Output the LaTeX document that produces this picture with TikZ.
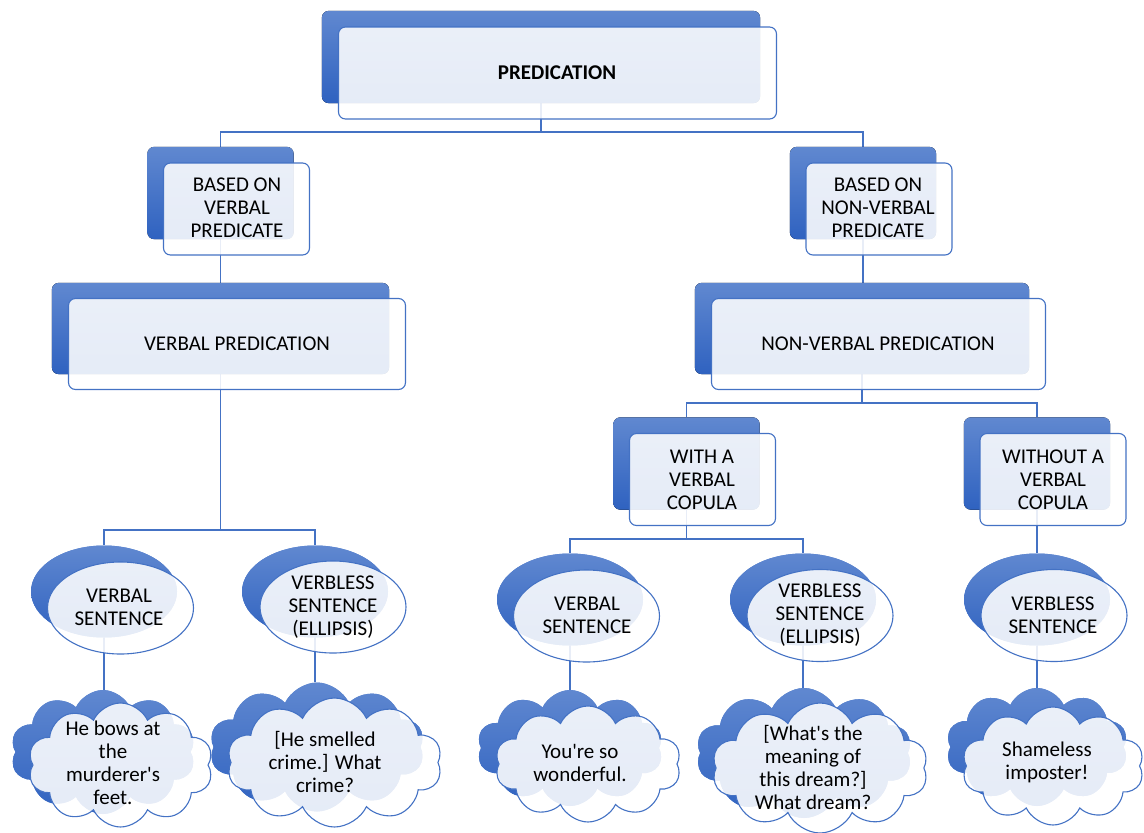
\documentclass[tikz,border=0pt]{standalone}
\usepackage{fontspec}
\setmainfont{Carlito}
\usetikzlibrary{shapes.symbols,shapes.geometric}
\definecolor{lineblue}{HTML}{4472C4}
\definecolor{backtop}{HTML}{6088D0}
\definecolor{backbot}{HTML}{2F62C0}
\tikzset{
  conn/.style={draw=lineblue, line width=1.1pt},
  backshade/.style={top color=backtop, bottom color=backbot, draw=none, inner sep=0pt},
  frontfill/.style={draw=lineblue, line width=1.1pt, fill=white, fill opacity=0.88, inner sep=0pt},
  backrect/.style={backshade, rectangle, rounded corners=7pt},
  frontrect/.style={frontfill, rectangle, rounded corners=7pt},
  backell/.style={backshade, ellipse},
  frontell/.style={frontfill, ellipse},
  backcloud/.style={backshade, cloud, cloud puffs=10, cloud puff arc=130, cloud ignores aspect},
  frontcloud/.style={frontfill, cloud, cloud puffs=10, cloud puff arc=130, cloud ignores aspect},
  txt/.style={align=center, inner sep=0pt, font=\fontsize{21}{23}\selectfont},
  small/.style={minimum width=146pt, minimum height=92pt},
  ovalsize/.style={minimum width=146pt, minimum height=92pt}
}
\begin{document}
\begin{tikzpicture}[x=1pt,y=-1pt]
\useasboundingbox (0,0) rectangle (1144,833);
% ---------- back shapes (placed first for anchors) ----------
\node[backrect, minimum width=438pt, minimum height=92pt] (bP) at (541,57) {};
\node[backrect, small] (bBV) at (220.5,193) {};
\node[backrect, small] (bBN) at (863,193) {};
\node[backrect, minimum width=337pt, minimum height=91pt] (bVP) at (220.5,328.5) {};
\node[backrect, minimum width=334pt, minimum height=91pt] (bNP) at (862,328.5) {};
\node[backrect, small] (bWA) at (686.5,463.5) {};
\node[backrect, small] (bWO) at (1037,463.5) {};
\node[backell, ovalsize] (bE1) at (104,591.5) {};
\node[backell, ovalsize] (bE2) at (315,591.5) {};
\node[backell, ovalsize] (bE3) at (570,599.5) {};
\node[backell, ovalsize] (bE4) at (803,599.5) {};
\node[backell, ovalsize] (bE5) at (1037,599.5) {};
\node[backcloud, minimum width=185pt, minimum height=124pt] (bC1) at (103,752) {};
\node[backcloud, minimum width=215pt, minimum height=129pt] (bC2) at (317,747) {};
\node[backcloud, minimum width=186pt, minimum height=116pt] (bC3) at (570,748) {};
\node[backcloud, minimum width=216pt, minimum height=130pt] (bC4) at (804,753) {};
\node[backcloud, minimum width=182pt, minimum height=118pt] (bC5) at (1037,747) {};
% ---------- connectors ----------
\coordinate (j0) at (541,132);
\coordinate (j1) at (220.5,530);
\coordinate (j2) at (862,403);
\coordinate (j3) at (686.5,539);
\draw[conn] (bP.south) -- (j0);
\draw[conn] (j0) -| (bBV.north);
\draw[conn] (j0) -| (bBN.north);
\draw[conn] (bBV.south) -- (bVP.north);
\draw[conn] (bBN.south) -- (bBN.south |- bNP.north);
\draw[conn] (bVP.south) -- (j1);
\draw[conn] (j1) -| (bE1.north);
\draw[conn] (j1) -| (bE2.north);
\draw[conn] (bNP.south) -- (j2);
\draw[conn] (j2) -| (bWA.north);
\draw[conn] (j2) -| (bWO.north);
\draw[conn] (bWA.south) -- (j3);
\draw[conn] (j3) -| (bE3.north);
\draw[conn] (j3) -| (bE4.north);
\draw[conn] (bWO.south) -- (bE5.north);
\draw[conn] (bE1.south) -- (bE1.south |- bC1.north);
\draw[conn] (bE2.south) -- (bE2.south |- bC2.north);
\draw[conn] (bE3.south) -- (bE3.south |- bC3.north);
\draw[conn] (bE4.south) -- (bE4.south |- bC4.north);
\draw[conn] (bE5.south) -- (bE5.south |- bC5.north);
% redraw back shapes above connectors
\fill[top color=backtop, bottom color=backbot, rounded corners=7pt] (bP.south west) rectangle (bP.north east);
\fill[top color=backtop, bottom color=backbot, rounded corners=7pt] (bBV.south west) rectangle (bBV.north east);
\fill[top color=backtop, bottom color=backbot, rounded corners=7pt] (bBN.south west) rectangle (bBN.north east);
\fill[top color=backtop, bottom color=backbot, rounded corners=7pt] (bVP.south west) rectangle (bVP.north east);
\fill[top color=backtop, bottom color=backbot, rounded corners=7pt] (bNP.south west) rectangle (bNP.north east);
\fill[top color=backtop, bottom color=backbot, rounded corners=7pt] (bWA.south west) rectangle (bWA.north east);
\fill[top color=backtop, bottom color=backbot, rounded corners=7pt] (bWO.south west) rectangle (bWO.north east);
\node[backell, ovalsize] at (bE1) {};
\node[backell, ovalsize] at (bE2) {};
\node[backell, ovalsize] at (bE3) {};
\node[backell, ovalsize] at (bE4) {};
\node[backell, ovalsize] at (bE5) {};
\node[backcloud, minimum width=185pt, minimum height=124pt] at (bC1) {};
\node[backcloud, minimum width=215pt, minimum height=129pt] at (bC2) {};
\node[backcloud, minimum width=186pt, minimum height=116pt] at (bC3) {};
\node[backcloud, minimum width=216pt, minimum height=130pt] at (bC4) {};
\node[backcloud, minimum width=182pt, minimum height=118pt] at (bC5) {};
% ---------- front shapes ----------
\node[frontrect, minimum width=438pt, minimum height=92pt] (fP) at (557.5,73) {};
\node[frontrect, small] (fBV) at (236.5,209) {};
\node[frontrect, small] (fBN) at (879,209) {};
\node[frontrect, minimum width=337pt, minimum height=91pt] (fVP) at (237,344) {};
\node[frontrect, minimum width=334pt, minimum height=91pt] (fNP) at (878.5,344) {};
\node[frontrect, small] (fWA) at (702.5,479.5) {};
\node[frontrect, small] (fWO) at (1053,479.5) {};
\node[frontell, ovalsize] (fE1) at (120.5,608) {};
\node[frontell, ovalsize] (fE2) at (333,607) {};
\node[frontell, ovalsize] (fE3) at (586.5,616) {};
\node[frontell, ovalsize] (fE4) at (820,615.5) {};
\node[frontell, ovalsize] (fE5) at (1054,615.5) {};
\node[frontcloud, minimum width=185pt, minimum height=124pt] (fC1) at (120.5,765) {};
\node[frontcloud, minimum width=215pt, minimum height=129pt] (fC2) at (334.5,762.5) {};
\node[frontcloud, minimum width=186pt, minimum height=116pt] (fC3) at (588,764) {};
\node[frontcloud, minimum width=216pt, minimum height=130pt] (fC4) at (820,768) {};
\node[frontcloud, minimum width=182pt, minimum height=118pt] (fC5) at (1053,766) {};
% ---------- texts ----------
\node[txt] (tP) at (557,73) {\textbf{PREDICATION}};
\node[txt] (tBV) at (237,208) {BASED ON\\VERBAL\\PREDICATE};
\node[txt] (tBN) at (878,208) {BASED ON\\NON-VERBAL\\PREDICATE};
\node[txt] (tVP) at (237,344) {VERBAL PREDICATION};
\node[txt] (tNP) at (878,344) {NON-VERBAL PREDICATION};
\node[txt] (tWA) at (702,480) {WITH A\\VERBAL\\COPULA};
\node[txt] (tWO) at (1053,480) {WITHOUT A\\VERBAL\\COPULA};
\node[txt] (tE1) at (119,607) {VERBAL\\SENTENCE};
\node[txt] (tE2) at (333,607) {VERBLESS\\SENTENCE\\(ELLIPSIS)};
\node[txt] (tE3) at (587,615) {VERBAL\\SENTENCE};
\node[txt] (tE4) at (820,615) {VERBLESS\\SENTENCE\\(ELLIPSIS)};
\node[txt] (tE5) at (1053,615) {VERBLESS\\SENTENCE};
\node[txt] (tC1) at (113,763) {He bows at\\the\\murderer\textquotesingle s\\feet.};
\node[txt] (tC2) at (325,762) {[He smelled\\crime.] What\\crime?};
\node[txt] (tC3) at (580,763) {You\textquotesingle re so\\wonderful.};
\node[txt] (tC4) at (813,767) {[What\textquotesingle s the\\meaning of\\this dream?]\\What dream?};
\node[txt] (tC5) at (1047,762) {Shameless\\imposter!};
\end{tikzpicture}
\end{document}
